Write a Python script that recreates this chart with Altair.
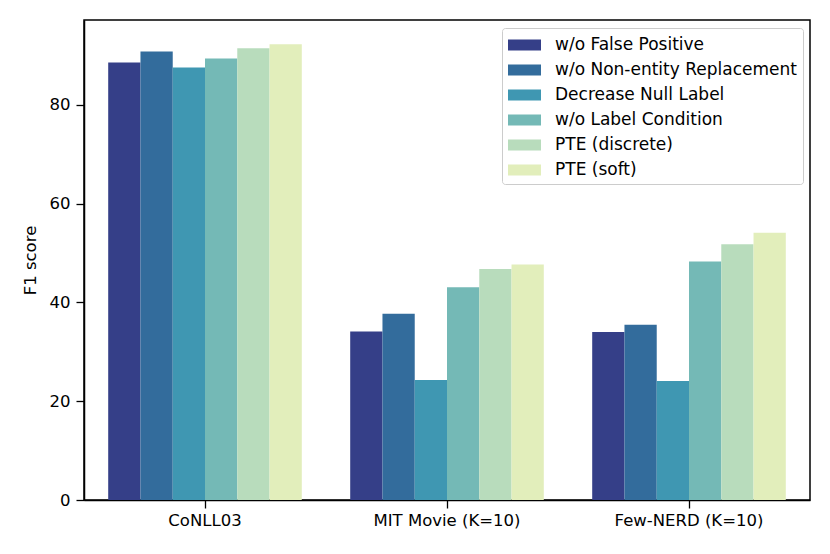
import altair as alt
import pandas as pd

datasets = ["CoNLL03", "MIT Movie (K=10)", "Few-NERD (K=10)"]
methods = [
    "w/o False Positive",
    "w/o Non-entity Replacement",
    "Decrease Null Label",
    "w/o Label Condition",
    "PTE (discrete)",
    "PTE (soft)",
]
colors = ["#353f88", "#336c9c", "#3f97b2", "#74b9b6", "#b8dcbc", "#e2eebb"]

conll = [88.6, 90.8, 87.6, 89.4, 91.5, 92.3]
mit = [34.1, 37.7, 24.3, 43.1, 46.8, 47.7]
fewnerd = [34.0, 35.5, 24.1, 48.3, 51.8, 54.1]

rows = []
for ds, vals in zip(datasets, [conll, mit, fewnerd]):
    for m, v in zip(methods, vals):
        rows.append({"dataset": ds, "method": m, "f1": v})
df = pd.DataFrame(rows)

FONT = "DejaVu Sans"

chart = (
    alt.Chart(df)
    .mark_bar()
    .encode(
        x=alt.X(
            "dataset:N",
            sort=datasets,
            scale=alt.Scale(paddingInner=0.2, paddingOuter=0.1),
            axis=alt.Axis(
                title=None,
                labelAngle=0,
                labelFontSize=16.5,
                labelFont=FONT,
                labelColor="black",
                labelPadding=4,
                tickSize=8,
                tickWidth=1.3,
                tickColor="black",
                domainColor="black",
                domainWidth=1.5,
            ),
        ),
        xOffset=alt.XOffset("method:N", sort=methods, scale=alt.Scale(paddingInner=0, paddingOuter=0)),
        y=alt.Y(
            "f1:Q",
            scale=alt.Scale(domain=[0, 97.2], nice=False, zero=True),
            axis=alt.Axis(
                title="F1 score",
                values=[0, 20, 40, 60, 80],
                grid=False,
                labelFontSize=16.5,
                labelFont=FONT,
                labelColor="black",
                labelPadding=6,
                tickSize=8,
                tickWidth=1.3,
                tickColor="black",
                domainColor="black",
                domainWidth=1.5,
                titleFont=FONT,
                titleFontSize=16.5,
                titleFontWeight="normal",
                titleColor="black",
                titlePadding=11,
            ),
        ),
        color=alt.Color(
            "method:N",
            sort=methods,
            scale=alt.Scale(domain=methods, range=colors),
            legend=alt.Legend(
                title=None,
                orient="none",
                legendX=418,
                legendY=8,
                symbolType="M-1,-0.5L2,-0.5L2,0.5L-1,0.5Z",
                symbolSize=484,
                symbolStrokeWidth=0,
                symbolOpacity=1,
                labelFont=FONT,
                labelFontSize=17,
                labelColor="black",
                labelOffset=25,
                rowPadding=6,
                padding=6,
                strokeColor="#cccccc",
                fillColor="white",
                cornerRadius=3,
                labelLimit=400,
            ),
        ),
    )
    .properties(
        width=726,
        height=480,
        autosize=alt.AutoSizeParams(type="none"),
        padding={"left": 76, "top": 12, "right": 12, "bottom": 46},
    )
    .configure_view(stroke="black", strokeWidth=1.5)
)

chart.save("out.html", embed_options={"renderer": "svg", "actions": False})
